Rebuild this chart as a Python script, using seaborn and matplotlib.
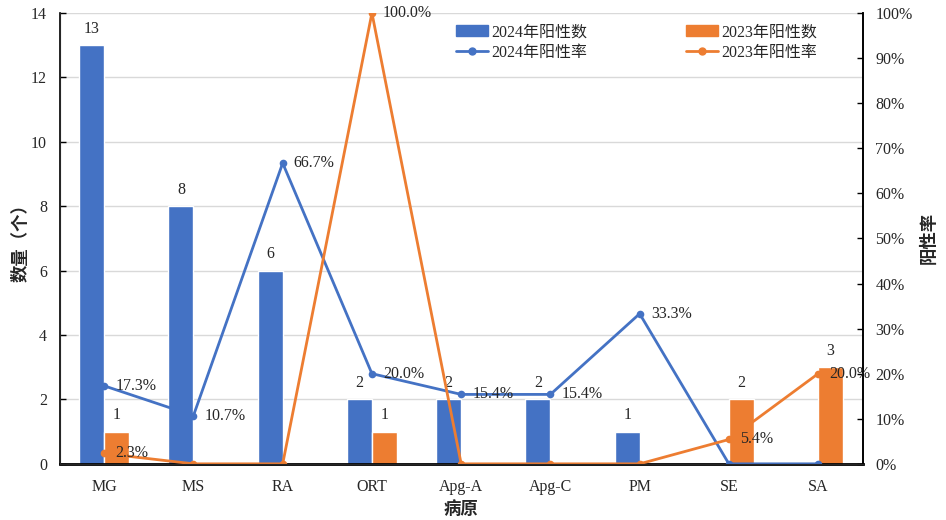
import numpy as np
import pandas as pd
import matplotlib
matplotlib.use('Agg')
import matplotlib.pyplot as plt
from matplotlib.patches import Patch
from matplotlib.lines import Line2D
from matplotlib.ticker import FixedLocator, PercentFormatter
import seaborn as sns

# Data
pathogens = ['MG', 'MS', 'RA', 'ORT', 'Apg-A', 'Apg-C', 'PM', 'SE', 'SA']
count_2024 = [13, 8, 6, 2, 2, 2, 1, 0, 0]
count_2023 = [1, 0, 0, 1, 0, 0, 0, 2, 3]
rate_2024 = [17.3, 10.7, 66.7, 20.0, 15.4, 15.4, 33.3, 0.0, 0.0]
rate_2023 = [2.3, 0.0, 0.0, 100.0, 0.0, 0.0, 0.0, 5.4, 20.0]
years = ['2024', '2023']

blue = '#4472C4'
orange = '#ED7D31'

sns.set_style('white')
plt.rcParams['font.family'] = ['Liberation Serif', 'Noto Sans CJK SC']
plt.rcParams['font.size'] = 11.5

df_counts = pd.DataFrame({
    'pathogen': pathogens * 2,
    'count': count_2024 + count_2023,
    'year': ['2024'] * len(pathogens) + ['2023'] * len(pathogens),
})

fig = plt.figure(figsize=(9.46, 5.2), dpi=100)
ax = fig.add_axes([0.063, 0.108, 0.849, 0.867])

sns.barplot(data=df_counts, x='pathogen', y='count', hue='year', order=pathogens,
            hue_order=years, palette=[blue, orange], width=0.56, gap=0,
            saturation=1, legend=False, ax=ax)

for cont in ax.containers:
    labels = [str(int(b.get_height())) if b.get_height() > 0 else '' for b in cont]
    ax.bar_label(cont, labels=labels, padding=6, fontsize=11.5)

ax.set_ylim(0, 14)
ax.set_yticks(np.arange(0, 15, 2))
ax.set_xlim(-0.5, len(pathogens) - 0.5)
ax.yaxis.grid(True, color='#d9d9d9', linewidth=1)
ax.set_axisbelow(True)
ax.xaxis.set_minor_locator(FixedLocator(np.arange(0.5, len(pathogens) - 1, 1)))
ax.tick_params(axis='x', which='major', length=0, pad=11)
ax.tick_params(axis='x', which='minor', direction='in', length=4, width=1, color='black')
ax.tick_params(axis='y', direction='in', length=4, width=1, color='black', left=True, pad=9)
ax.set_xlabel('病原', fontsize=12.5, fontweight='bold', labelpad=4)
ax.set_ylabel('数量（个）', fontsize=12.5, fontweight='bold', labelpad=1)

for side in ['left', 'bottom', 'right']:
    ax.spines[side].set_color('black')
    ax.spines[side].set_linewidth(1.2)
ax.spines['bottom'].set_linewidth(2)
ax.spines['top'].set_visible(False)

# Rates on the secondary axis
ax2 = ax.twinx()
x = np.arange(len(pathogens))
sns.lineplot(x=x, y=rate_2024, color=blue, linewidth=2, marker='o', markersize=5.5,
             markeredgewidth=0, ax=ax2)
sns.lineplot(x=x, y=rate_2023, color=orange, linewidth=2, marker='o', markersize=5.5,
             markeredgewidth=0, ax=ax2)
for rates in (rate_2024, rate_2023):
    for i, v in enumerate(rates):
        if v > 0:
            ax2.annotate(f'{v:.1f}%', (i, v), xytext=(8, 0), textcoords='offset points',
                         va='center', ha='left', fontsize=11.5)

ax2.set_ylim(0, 100)
ax2.set_yticks(np.arange(0, 101, 10))
ax2.yaxis.set_major_formatter(PercentFormatter(decimals=0))
ax2.tick_params(axis='y', direction='in', length=4, width=1, color='black', right=True, pad=9)
ax2.set_ylabel('阳性率', fontsize=12.5, fontweight='bold', rotation=90, labelpad=6)
ax2.spines['top'].set_visible(False)
ax2.spines['right'].set_color('black')
ax2.spines['right'].set_linewidth(1.2)
ax2.grid(False)

handles = [
    Patch(color=blue),
    Line2D([0], [0], color=blue, linewidth=2, marker='o', markersize=5),
    Patch(color=orange),
    Line2D([0], [0], color=orange, linewidth=2, marker='o', markersize=5),
]
labels = ['2024年阳性数', '2024年阳性率', '2023年阳性数', '2023年阳性率']
ax2.legend(handles, labels, ncol=2, loc='upper left', bbox_to_anchor=(0.48, 1.0),
           frameon=False, columnspacing=6.2, handlelength=2, handletextpad=0.2,
           labelspacing=0.3, borderaxespad=0.3, fontsize=11.5)

fig.savefig('out.png', dpi=100)
